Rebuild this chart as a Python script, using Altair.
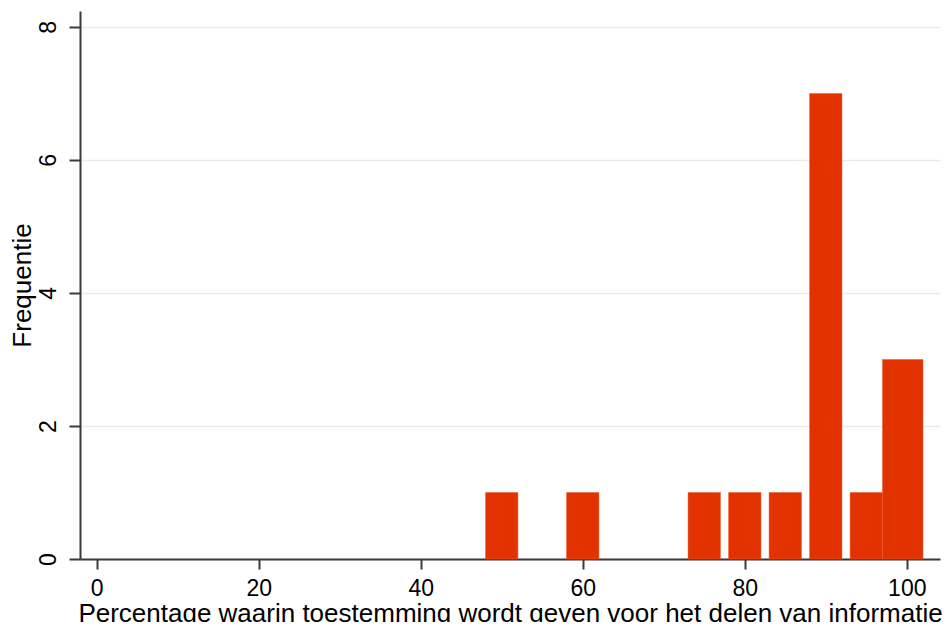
import altair as alt
import pandas as pd

bin_lo = [48, 58, 73, 78, 83, 88, 93, 97]
bin_hi = [52, 62, 77, 82, 87, 92, 97, 102]
counts = [1, 1, 1, 1, 1, 7, 1, 3]
x_ticks = [0, 20, 40, 60, 80, 100]
y_ticks = [0, 2, 4, 6, 8]

df = pd.DataFrame({"lo": bin_lo, "hi": bin_hi, "n": counts})

FONT = "Liberation Sans"

bars = alt.Chart(df).mark_bar(color="#E23200", stroke="#EE5A30", strokeWidth=0.5).encode(
    x=alt.X("lo:Q",
            scale=alt.Scale(domain=[-2.06, 104.1], nice=False, zero=False),
            axis=alt.Axis(values=x_ticks, title="Percentage waarin toestemming wordt geven voor het delen van informatie",
                          grid=False, tickSize=10, labelPadding=8,
                          titleX=430, titleY=62, titleAnchor="middle", titleAlign="center",
                          titleBaseline="alphabetic", titleFontSize=26)),
    x2="hi:Q",
    y=alt.Y("n:Q",
            scale=alt.Scale(domain=[0, 8.24], nice=False),
            axis=alt.Axis(values=y_ticks, title="Frequentie", grid=True, tickSize=11,
                          labelAngle=-90, labelAlign="center", labelBaseline="bottom",
                          labelPadding=9, titleX=-50, titleY=274, titleAngle=-90,
                          titleAlign="center", titleBaseline="alphabetic", titleFontSize=26)),
    y2=alt.datum(0),
)

chart = bars.properties(
    width=860, height=548,
    autosize=alt.AutoSizeParams(type="none"),
    padding={"left": 72, "top": 3, "right": 2, "bottom": 63},
).configure_view(stroke=None).configure_axis(
    labelFont=FONT, titleFont=FONT, labelFontSize=23,
    labelColor="#000000", titleColor="#000000", titleFontWeight="normal",
    domainColor="#3a3a3a", domainWidth=2, tickColor="#3a3a3a", tickWidth=2,
    gridColor="#E6EDF1", gridWidth=1.5,
)

chart.save("out.html", embed_options={"renderer": "svg", "actions": False})
